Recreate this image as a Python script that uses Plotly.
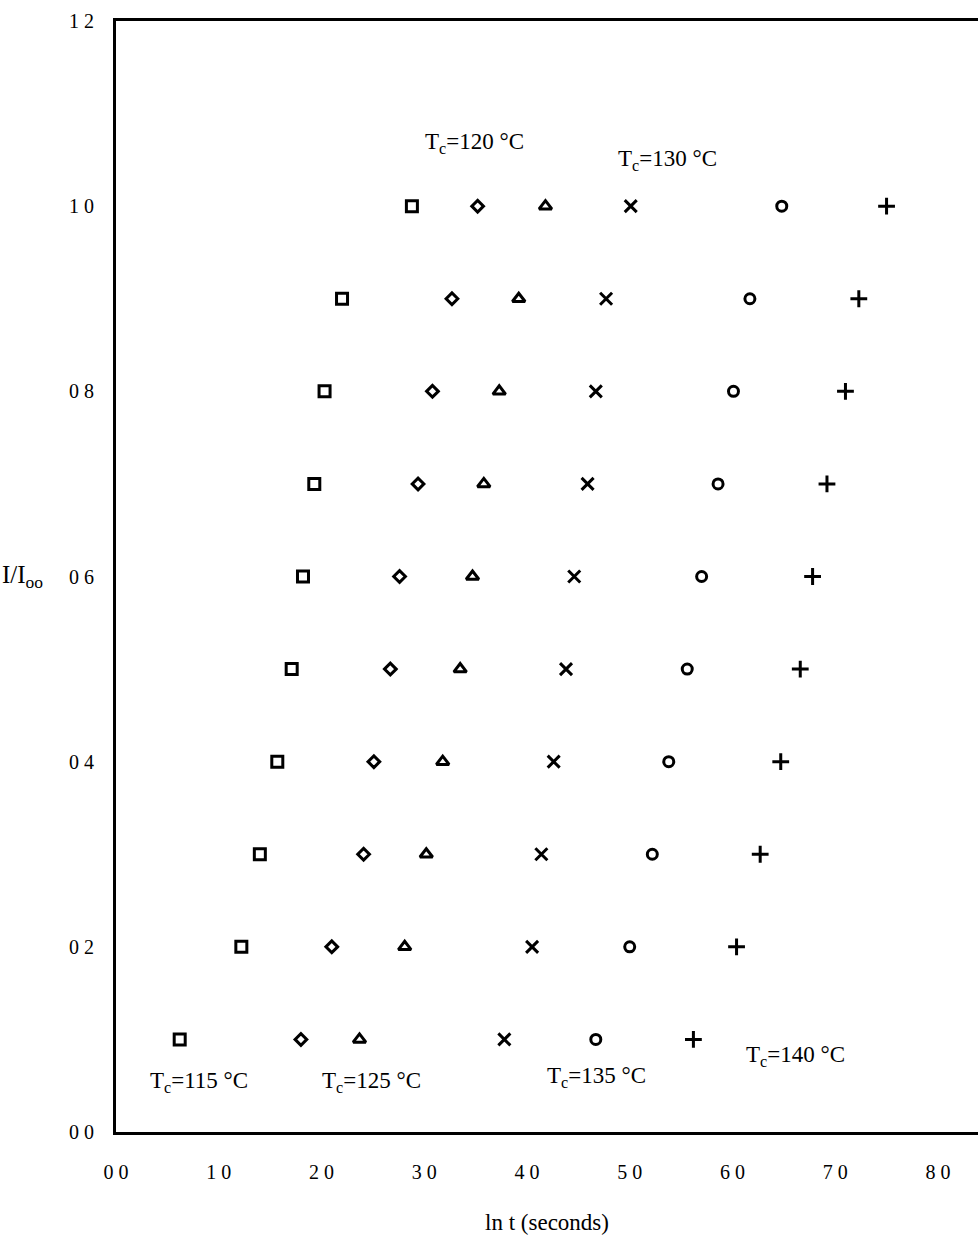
import plotly.graph_objects as go

# Fractional intensity levels (shared by every series)
frac = [0.1, 0.2, 0.3, 0.4, 0.5, 0.6, 0.7, 0.8, 0.9, 1.0]

# ln t values for each crystallization temperature
lnt_115 = [0.62, 1.22, 1.40, 1.57, 1.71, 1.82, 1.93, 2.03, 2.20, 2.88]
lnt_120 = [1.80, 2.10, 2.41, 2.51, 2.67, 2.76, 2.94, 3.08, 3.27, 3.52]
lnt_125 = [2.37, 2.81, 3.02, 3.18, 3.35, 3.47, 3.58, 3.73, 3.92, 4.18]
lnt_130 = [3.78, 4.05, 4.14, 4.26, 4.38, 4.46, 4.59, 4.67, 4.77, 5.01]
lnt_135 = [4.67, 5.00, 5.22, 5.38, 5.56, 5.70, 5.86, 6.01, 6.17, 6.48]
lnt_140 = [5.62, 6.04, 6.27, 6.47, 6.66, 6.78, 6.92, 7.10, 7.23, 7.50]

x_ticks = [0, 1, 2, 3, 4, 5, 6, 7, 8]
x_ticktext = ["0 0", "1 0", "2 0", "3 0", "4 0", "5 0", "6 0", "7 0", "8 0"]
y_ticks = [0.0, 0.2, 0.4, 0.6, 0.8, 1.0, 1.2]
y_ticktext = ["0 0", "0 2", "0 4", "0 6", "0 8", "1 0", "1 2"]

serif = "Liberation Serif, Times New Roman, serif"

series = [
    ("115", lnt_115, "square-open", 11),
    ("120", lnt_120, "diamond-open", 9),
    ("125", lnt_125, "triangle-up-open", 11),
    ("130", lnt_130, "x-thin", 12),
    ("135", lnt_135, "circle-open", 10),
    ("140", lnt_140, "cross-thin", 12),
]

fig = go.Figure()
for name, xs, sym, sz in series:
    fig.add_trace(go.Scatter(
        x=xs, y=frac, mode="markers", name=name,
        marker=dict(symbol=sym, size=sz, color="black",
                    line=dict(color="black", width=3)),
        showlegend=False,
    ))

labels = [
    (3.49, 1.068, "T<sub>c</sub>=120 °C"),
    (5.37, 1.050, "T<sub>c</sub>=130 °C"),
    (0.81, 0.054, "T<sub>c</sub>=115 °C"),
    (2.49, 0.054, "T<sub>c</sub>=125 °C"),
    (4.68, 0.059, "T<sub>c</sub>=135 °C"),
    (6.61, 0.082, "T<sub>c</sub>=140 °C"),
]
for lx, ly, txt in labels:
    fig.add_annotation(x=lx, y=ly, text=txt, showarrow=False,
                       font=dict(family=serif, size=23, color="black"))

# y-axis title placed beside the 0.6 tick
fig.add_annotation(xref="paper", yref="y", x=-0.135, y=0.6, xanchor="left",
                   text="I/I<sub>oo</sub>", showarrow=False,
                   font=dict(family=serif, size=25, color="black"))

fig.update_layout(
    width=978, height=1239,
    margin=dict(l=116, r=0, t=21, b=107),
    paper_bgcolor="white", plot_bgcolor="white",
    xaxis=dict(range=[0, 8.39], tickvals=x_ticks, ticktext=x_ticktext,
               showgrid=False, zeroline=False, showline=True, mirror=True,
               linecolor="black", linewidth=3, ticks="",
               ticklabelstandoff=20,
               tickfont=dict(family=serif, size=20, color="black"),
               title=dict(text="ln t (seconds)", standoff=32,
                          font=dict(family=serif, size=23, color="black"))),
    yaxis=dict(range=[0, 1.2], tickvals=y_ticks, ticktext=y_ticktext,
               showgrid=False, zeroline=False, showline=True, mirror=False,
               linecolor="black", linewidth=3, ticks="",
               ticklabelstandoff=15,
               tickfont=dict(family=serif, size=20, color="black")),
)

fig.write_html("out.html")
